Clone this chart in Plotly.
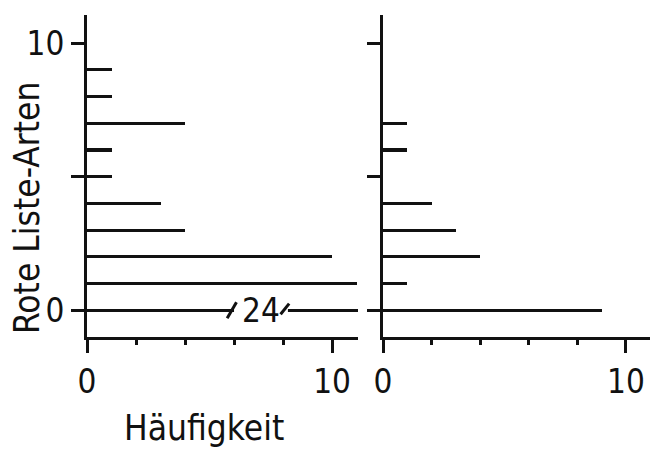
import plotly.graph_objects as go

# ---- data ----
rote_liste_arten = [0, 1, 2, 3, 4, 5, 6, 7, 8, 9]
haeufigkeit_links = [24, 11, 10, 4, 3, 1, 1, 4, 1, 1]
haeufigkeit_rechts = [9, 1, 4, 3, 2, 0, 1, 1, 0, 0]
x_tick_labels = ["0", "10"]
y_tick_labels = ["0", "", "10"]
break_label = "24"

FONT = "Liberation Sans Narrow, DejaVu Sans Condensed, Roboto Condensed, DejaVu Sans, sans-serif"
INK = "#111111"
W, H = 650, 449

fig = go.Figure()

fig.add_trace(go.Bar(x=haeufigkeit_links, y=rote_liste_arten, orientation="h",
                     width=0.12, marker=dict(color=INK, line=dict(width=0)),
                     xaxis="x", yaxis="y", showlegend=False))
fig.add_trace(go.Bar(x=haeufigkeit_rechts, y=rote_liste_arten, orientation="h",
                     width=0.12, marker=dict(color=INK, line=dict(width=0)),
                     xaxis="x2", yaxis="y2", showlegend=False))

ydom = [(H - 337) / H, (H - 15) / H]
common_x = dict(showgrid=False, zeroline=False, showline=True, linecolor=INK, linewidth=3,
                ticks="outside", ticklen=13, tickwidth=3, tickcolor=INK,
                tickvals=[0, 10], ticktext=x_tick_labels, automargin=False,
                minor=dict(tickvals=[2, 4, 6, 8], ticks="outside", ticklen=5,
                           tickwidth=3, tickcolor=INK),
                tickfont=dict(family=FONT, size=33, color=INK), fixedrange=True)
common_y = dict(showgrid=False, zeroline=False, showline=True, linecolor=INK, linewidth=3,
                ticks="outside", ticklen=13, tickwidth=3, tickcolor=INK, automargin=False,
                range=[-1, 11.05], domain=ydom,
                tickfont=dict(family=FONT, size=33, color=INK), fixedrange=True)

fig.update_layout(
    width=W, height=H,
    margin=dict(l=0, r=0, t=0, b=0, autoexpand=False),
    paper_bgcolor="white", plot_bgcolor="white",
    bargap=0,
    xaxis=dict(common_x, domain=[87 / W, 358 / W], range=[0, 11.06], anchor="y"),
    yaxis=dict(common_y, anchor="x", tickvals=[0, 5, 10], ticktext=y_tick_labels),
    xaxis2=dict(common_x, domain=[383 / W, 1.0], range=[0, 10.99], anchor="y2"),
    yaxis2=dict(common_y, anchor="x2", tickvals=[0, 5, 10], ticktext=["", "", ""]),
)

# axis break on the first bar of the left panel
b0, b1 = 6.0, 8.2
fig.add_shape(type="rect", xref="x", yref="y", x0=b0, x1=b1, y0=-0.3, y1=0.3,
              fillcolor="white", line=dict(width=0), layer="above")
fig.add_shape(type="line", xref="x", yref="y", x0=b0 - 0.28, y0=-0.3, x1=b0 + 0.1, y1=0.3,
              line=dict(color=INK, width=3), layer="above")
fig.add_shape(type="line", xref="x", yref="y", x0=b1 - 0.3, y0=-0.15, x1=b1 + 0.05, y1=0.25,
              line=dict(color=INK, width=3), layer="above")
fig.add_annotation(xref="x", yref="y", x=(b0 + b1) / 2, y=0, text=break_label,
                   showarrow=False, xanchor="center", yanchor="middle",
                   font=dict(family=FONT, size=33, color=INK))

# axis titles
fig.add_annotation(xref="paper", yref="paper", x=204 / W, y=(H - 428) / H,
                   text="Häufigkeit", showarrow=False, xanchor="center", yanchor="middle",
                   font=dict(family=FONT, size=35, color=INK))
fig.add_annotation(xref="paper", yref="paper", x=27 / W, y=(H - 208) / H,
                   text="Rote Liste-Arten", showarrow=False, textangle=-90,
                   xanchor="center", yanchor="middle",
                   font=dict(family=FONT, size=35, color=INK))

fig.write_html("out.html")
